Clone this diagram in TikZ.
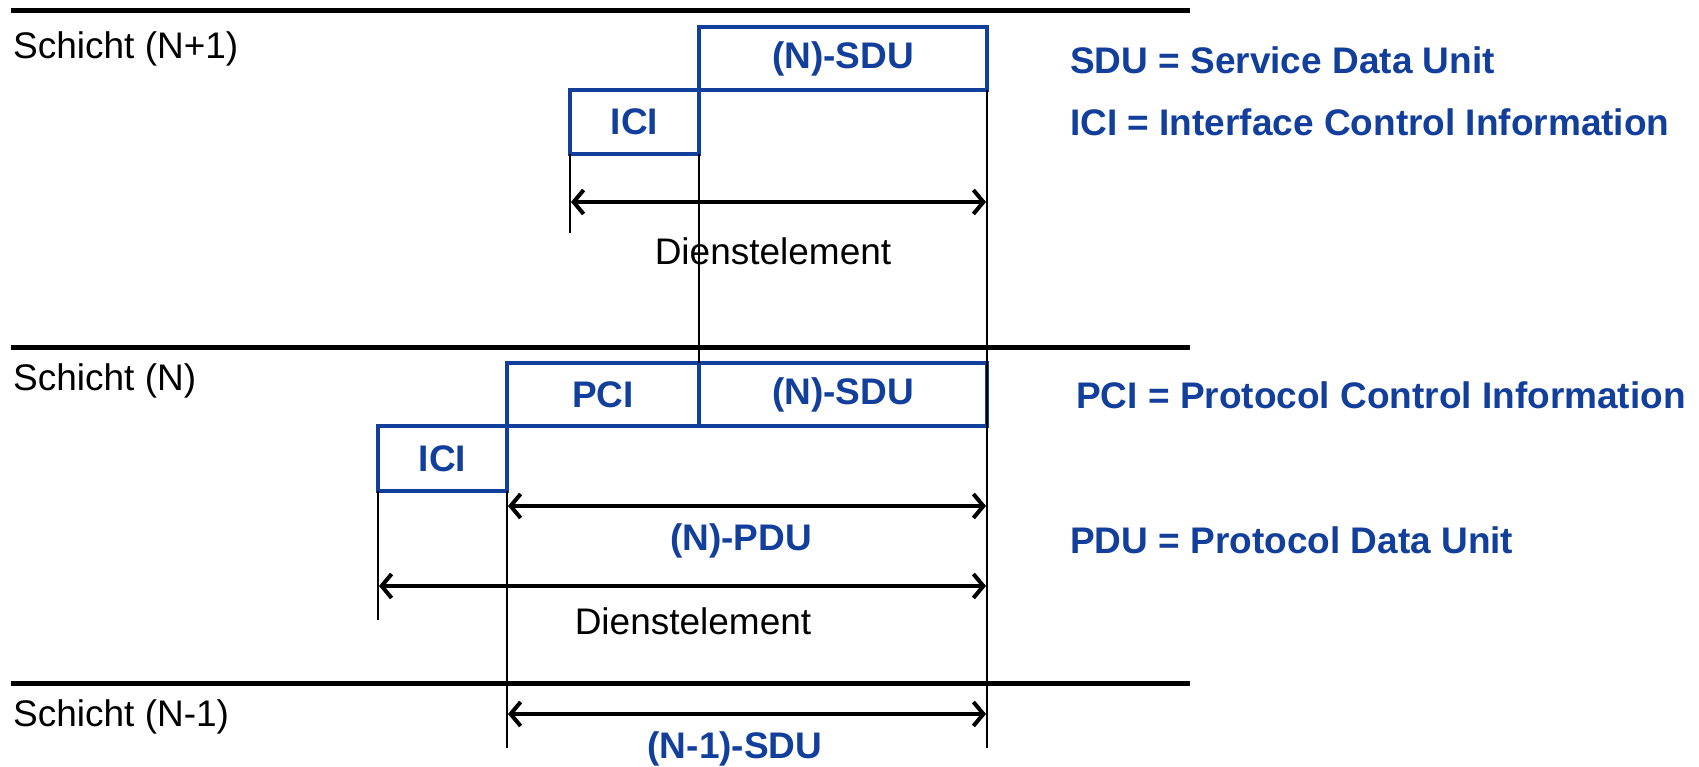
\documentclass[tikz,border=0pt]{standalone}
\usepackage{fontspec}
\setmainfont{Liberation Sans}
\usetikzlibrary{arrows.meta}
\definecolor{dblue}{RGB}{18,62,156}
\tikzset{
  layerline/.style={line width=5pt, black},
  box/.style={draw=dblue, line width=3.5pt, inner sep=0pt, outer sep=0pt,
    text=dblue, font=\bfseries\fontsize{37}{44}\selectfont},
  guide/.style={line width=1.8pt, black},
  dimarrow/.style={line width=4pt, black,
    {Straight Barb[length=10pt,width=24pt,line width=4pt]}-{Straight Barb[length=10pt,width=24pt,line width=4pt]}},
  plain/.style={font=\fontsize{37}{44}\selectfont, inner sep=0pt},
  blue/.style={font=\bfseries\fontsize{37}{44}\selectfont, text=dblue, inner sep=0pt}
}
\begin{document}
\begin{tikzpicture}[x=1pt,y=-1pt]
\useasboundingbox (0,0) rectangle (1699,767);
% layer lines
\coordinate (l1a) at (11,11);  \coordinate (l1b) at (1190,11);
\coordinate (l2a) at (11,347); \coordinate (l2b) at (1190,347);
\coordinate (l3a) at (11,683); \coordinate (l3b) at (1190,683);
\draw[layerline] (l1a) -- (l1b);
\draw[layerline] (l2a) -- (l2b);
\draw[layerline] (l3a) -- (l3b);
% layer labels
\node[plain, anchor=west] (s1) at (13,49) {Schicht (N+1)};
\node[plain, anchor=west] (s2) at (13,381) {Schicht (N)};
\node[plain, anchor=west] (s3) at (13,717) {Schicht (N-1)};
% boxes
\node[box, minimum width=288pt, minimum height=63pt] (sdu1) at (843,58.5) {(N)-SDU};
\node[box, minimum width=129pt, minimum height=64pt] (ici1) at (634.5,122) {ICI};
\node[box, minimum width=192pt, minimum height=63pt] (pci) at (603,394.5) {PCI};
\node[box, minimum width=288pt, minimum height=63pt] (sdu2) at (843,394.5) {(N)-SDU};
\node[box, minimum width=129pt, minimum height=65pt] (ici2) at (442.5,458.5) {ICI};
% guide lines
\coordinate (g1) at (570,233);
\coordinate (g2) at (987,748);
\coordinate (g3) at (378,620);
\coordinate (g4) at (507,748);
\draw[guide] (ici1.south west) -- (g1);
\draw[guide] (ici1.south east) -- (pci.north east);
\draw[guide] (sdu1.south east) -- (g2);
\draw[guide] (ici2.south west) -- (g3);
\draw[guide] (ici2.south east) -- (g4);
% arrows
\coordinate (a1l) at (571,202); \coordinate (a1r) at (986,202);
\coordinate (a2l) at (508,506); \coordinate (a2r) at (986,506);
\coordinate (a3l) at (379,586); \coordinate (a3r) at (986,586);
\coordinate (a4l) at (508,714); \coordinate (a4r) at (986,714);
\draw[dimarrow] (a1l) -- (a1r);
\draw[dimarrow] (a2l) -- (a2r);
\draw[dimarrow] (a3l) -- (a3r);
\draw[dimarrow] (a4l) -- (a4r);
% arrow labels
\node[plain] (d1) at (773,251) {Dienstelement};
\node[blue] (pdu) at (741,541) {(N)-PDU};
\node[plain] (d2) at (693,621) {Dienstelement};
\node[blue] (nsdu) at (735,749) {(N-1)-SDU};
% legend
\node[blue, anchor=west] (lg1) at (1070,60) {SDU = Service Data Unit};
\node[blue, anchor=west] (lg2) at (1070,122) {ICI = Interface Control Information};
\node[blue, anchor=west] (lg3) at (1076,395) {PCI = Protocol Control Information};
\node[blue, anchor=west] (lg4) at (1070,540) {PDU = Protocol Data Unit};
\end{tikzpicture}
\end{document}
